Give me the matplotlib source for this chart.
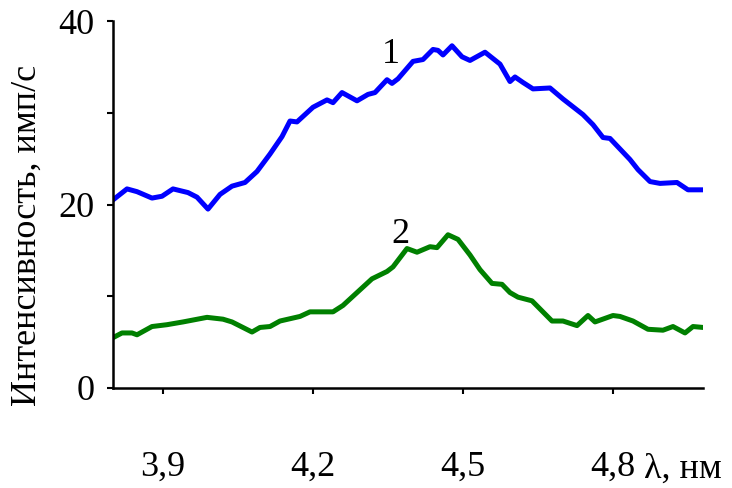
import matplotlib
matplotlib.use("Agg")
import matplotlib.pyplot as plt

# Curve 1 (blue)
x1 = [3.800, 3.828, 3.848, 3.878, 3.898, 3.920, 3.950, 3.968, 3.990, 4.014,
      4.038, 4.064, 4.088, 4.114, 4.138, 4.154, 4.168, 4.200, 4.228, 4.240,
      4.258, 4.288, 4.310, 4.324, 4.348, 4.358, 4.370, 4.400, 4.420, 4.440,
      4.450, 4.460, 4.478, 4.498, 4.514, 4.544, 4.574, 4.594, 4.604, 4.620,
      4.640, 4.674, 4.700, 4.740, 4.760, 4.780, 4.794, 4.834, 4.850, 4.874,
      4.894, 4.928, 4.950, 4.980]
y1 = [20.5, 21.7, 21.4, 20.7, 20.9, 21.7, 21.3, 20.8, 19.5, 21.1,
      22.0, 22.4, 23.6, 25.5, 27.4, 29.1, 29.0, 30.6, 31.4, 31.1,
      32.2, 31.3, 32.0, 32.2, 33.6, 33.2, 33.7, 35.6, 35.8, 36.9,
      36.8, 36.3, 37.3, 36.1, 35.7, 36.6, 35.3, 33.4, 33.9, 33.3,
      32.6, 32.7, 31.5, 29.8, 28.7, 27.3, 27.2, 24.9, 23.8, 22.5,
      22.3, 22.4, 21.6, 21.6]

# Curve 2 (green)
x2 = [3.804, 3.818, 3.838, 3.848, 3.878, 3.908, 3.940, 3.988, 4.020, 4.038,
      4.078, 4.094, 4.114, 4.134, 4.174, 4.194, 4.240, 4.260, 4.288, 4.318,
      4.348, 4.360, 4.388, 4.408, 4.434, 4.448, 4.470, 4.490, 4.514, 4.534,
      4.558, 4.578, 4.594, 4.610, 4.638, 4.678, 4.700, 4.728, 4.750, 4.764,
      4.800, 4.814, 4.840, 4.870, 4.900, 4.920, 4.944, 4.960, 4.980]
y2 = [5.6, 6.0, 6.0, 5.8, 6.7, 6.9, 7.2, 7.7, 7.5, 7.2,
      6.1, 6.6, 6.7, 7.3, 7.8, 8.3, 8.3, 9.0, 10.4, 11.9,
      12.7, 13.2, 15.2, 14.8, 15.4, 15.3, 16.7, 16.2, 14.5, 12.9,
      11.4, 11.3, 10.4, 9.9, 9.5, 7.3, 7.3, 6.8, 7.9, 7.2,
      7.9, 7.8, 7.3, 6.4, 6.3, 6.7, 6.0, 6.7, 6.6]

x_ticks = [3.9, 4.2, 4.5, 4.8]
x_tick_labels = ["3,9", "4,2", "4,5", "4,8"]
y_ticks = [0, 10, 20, 30, 40]
y_tick_labels = ["0", "", "20", "", "40"]

FONT = "Liberation Serif"
FS = 26

fig = plt.figure(figsize=(7.32, 4.88), dpi=100)
ax = fig.add_axes([113/732, 1-388/488, (703-113)/732, (388-21)/488])

ax.plot(x1, y1, color="#0000ff", lw=3.6, solid_joinstyle="round")
ax.plot(x2, y2, color="#008000", lw=3.6, solid_joinstyle="round")

ax.set_xlim(3.8, 4.98)
ax.set_ylim(0, 40)

ax.set_xticks(x_ticks)
ax.set_xticklabels(x_tick_labels, fontfamily=FONT, fontsize=FS)
ax.set_yticks(y_ticks)
ax.set_yticklabels(y_tick_labels, fontfamily=FONT, fontsize=FS)

ax.spines["top"].set_visible(False)
ax.spines["right"].set_visible(False)
for s in ("left", "bottom"):
    ax.spines[s].set_linewidth(1.8)
ax.tick_params(axis="both", direction="out", length=4.5, width=1.5)
ax.tick_params(axis="x", pad=41)
ax.tick_params(axis="y", pad=9)

ax.text(4.356, 36.3, "1", fontfamily=FONT, fontsize=FS, ha="center", va="center")
ax.text(4.374, 16.7, "2", fontfamily=FONT, fontsize=FS, ha="center", va="center")

fig.text(27/732, 1-235/488, "Интенсивность, имп/с", rotation=90,
         fontfamily=FONT, fontsize=FS, ha="center", va="center")
fig.text(644/732, 1-478/488, "λ, нм", fontfamily=FONT, fontsize=FS,
         ha="left", va="baseline")

fig.savefig("out.png", dpi=100)
